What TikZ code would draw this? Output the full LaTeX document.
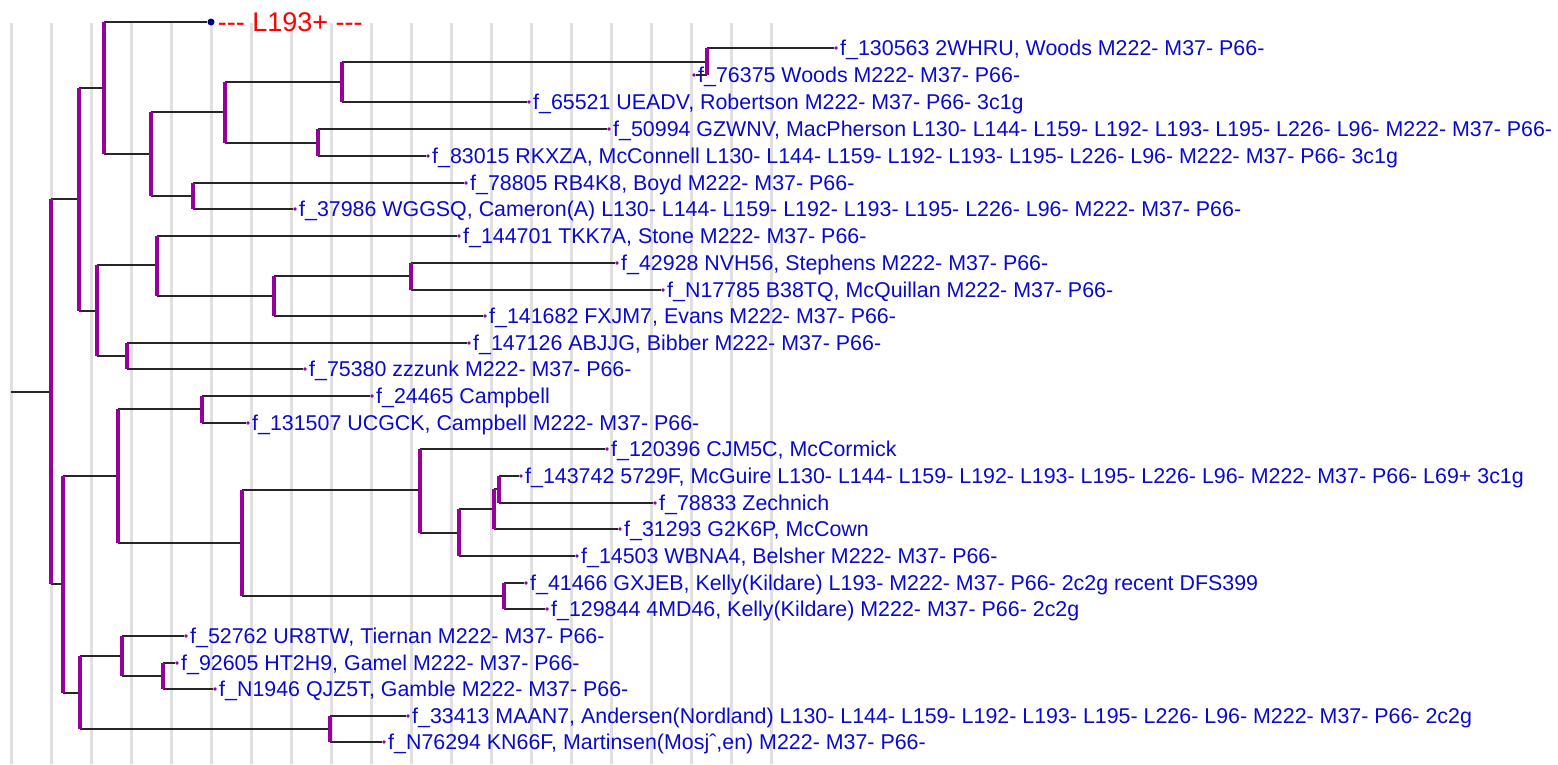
\documentclass[tikz,border=0pt]{standalone}
\usepackage{fontspec}
\newfontfamily\treefont{Liberation Sans}
\usepackage{tikz}
\definecolor{leafblue}{RGB}{10,10,205}
\definecolor{cladepurple}{RGB}{150,0,155}
\definecolor{gridgray}{RGB}{224,224,224}
\definecolor{rootnavy}{RGB}{0,0,140}
\tikzstyle{grid line}=[gridgray, line width=3pt]
\tikzstyle{branch}=[black!85, line width=1.4pt]
\tikzstyle{cladebar}=[cladepurple, line width=3.2pt]
\tikzstyle{leafdot}=[circle, fill=cladepurple, inner sep=0pt, minimum size=3.6pt]
\tikzstyle{l193dot}=[circle, fill=rootnavy, inner sep=0pt, minimum size=7pt]
\tikzstyle{annot}=[anchor=base west, inner sep=0pt, xshift=2pt, yshift=-7.7pt, text=leafblue, font=\treefont\fontsize{21.4}{24}\selectfont]
\tikzstyle{redannot}=[anchor=base west, inner sep=0pt, xshift=3pt, yshift=-9.7pt, text=red, font=\treefont\fontsize{27}{30}\selectfont]
\newcommand{\addleaf}[4]
{
  \node[leafdot](#1) at (#2,#3){};
  \node[annot](#1-lab) at (#1.east){#4};
}
\newcommand{\addclade}[3]
{
  \draw[branch] (#1 |- #2) -- (#2);
  \draw[branch] (#1 |- #3) -- (#3);
  \draw[cladebar] (#1 |- #2) -- (#1 |- #3);
}
\begin{document}
\begin{tikzpicture}[x=1pt, y=-1pt]
	\useasboundingbox (0,0) rectangle (1558,764);

	% background grid
	\foreach \k in {0,...,19}
		\draw[grid line] (11+40*\k,23) -- (11+40*\k,764);

	% leaves
	\node[l193dot](l193) at (211,22){};
	\node[redannot](l193-lab) at (l193.east){-\kern0pt-\kern0pt- L193+ -\kern0pt-\kern0pt-};
	\addleaf{f130563}{836}{48}{f\_130563 2WHRU, Woods M222- M37- P66-}
	\addleaf{f76375}{694}{75}{f\_76375 Woods M222- M37- P66-}
	\addleaf{f65521}{529}{102}{f\_65521 UEADV, Robertson M222- M37- P66- 3c1g}
	\addleaf{f50994}{609}{129}{f\_50994 GZWNV, MacPherson L130- L144- L159- L192- L193- L195- L226- L96- M222- M37- P66-}
	\addleaf{f83015}{428}{156}{f\_83015 RKXZA, McConnell L130- L144- L159- L192- L193- L195- L226- L96- M222- M37- P66- 3c1g}
	\addleaf{f78805}{466}{183}{f\_78805 RB4K8, Boyd M222- M37- P66-}
	\addleaf{f37986}{295}{209}{f\_37986 WGGSQ, Cameron(A) L130- L144- L159- L192- L193- L195- L226- L96- M222- M37- P66-}
	\addleaf{f144701}{459}{236}{f\_144701 TKK7A, Stone M222- M37- P66-}
	\addleaf{f42928}{617}{263}{f\_42928 NVH56, Stephens M222- M37- P66-}
	\addleaf{fN17785}{663}{290}{f\_N17785 B38TQ, McQuillan M222- M37- P66-}
	\addleaf{f141682}{485}{316}{f\_141682 FXJM7, Evans M222- M37- P66-}
	\addleaf{f147126}{469}{343}{f\_147126 ABJJG, Bibber M222- M37- P66-}
	\addleaf{f75380}{305}{369}{f\_75380 zzzunk M222- M37- P66-}
	\addleaf{f24465}{372}{396}{f\_24465 Campbell}
	\addleaf{f131507}{248}{423}{f\_131507 UCGCK, Campbell M222- M37- P66-}
	\addleaf{f120396}{607}{449}{f\_120396 CJM5C, McCormick}
	\addleaf{f143742}{521}{476}{f\_143742 5729F, McGuire L130- L144- L159- L192- L193- L195- L226- L96- M222- M37- P66- L69+ 3c1g}
	\addleaf{f78833}{655}{503}{f\_78833 Zechnich}
	\addleaf{f31293}{620}{529}{f\_31293 G2K6P, McCown}
	\addleaf{f14503}{577}{556}{f\_14503 WBNA4, Belsher M222- M37- P66-}
	\addleaf{f41466}{526}{583}{f\_41466 GXJEB, Kelly(Kildare) L193- M222- M37- P66- 2c2g recent DFS399}
	\addleaf{f129844}{547}{609}{f\_129844 4MD46, Kelly(Kildare) M222- M37- P66- 2c2g}
	\addleaf{f52762}{186}{636}{f\_52762 UR8TW, Tiernan M222- M37- P66-}
	\addleaf{f92605}{177}{663}{f\_92605 HT2H9, Gamel M222- M37- P66-}
	\addleaf{fN1946}{215}{689}{f\_N1946 QJZ5T, Gamble M222- M37- P66-}
	\addleaf{f33413}{408}{716}{f\_33413 MAAN7, Andersen(Nordland) L130- L144- L159- L192- L193- L195- L226- L96- M222- M37- P66- 2c2g}
	\addleaf{fN76294}{384}{742}{f\_N76294 KN66F, Martinsen(Mosjˆ,en) M222- M37- P66-}

	% inner nodes
	\coordinate (stem) at (11,392);
	\coordinate (root) at (51,392);
	\coordinate (ca) at (79,199);
	\coordinate (cb) at (104,88);
	\coordinate (cc) at (151,154);
	\coordinate (cd) at (225,112);
	\coordinate (ce) at (193,196);
	\coordinate (cf) at (342,82);
	\coordinate (cg) at (318,143);
	\coordinate (ch) at (707,62);
	\coordinate (ci) at (97,311);
	\coordinate (cj) at (157,265);
	\coordinate (ck) at (127,356);
	\coordinate (cl) at (274,296);
	\coordinate (cm) at (411,276);
	\coordinate (cn) at (63,584);
	\coordinate (co) at (118,476);
	\coordinate (cp) at (80,693);
	\coordinate (cq) at (202,409);
	\coordinate (cr) at (242,543);
	\coordinate (cs) at (420,490);
	\coordinate (ct) at (504,596);
	\coordinate (cu) at (459,533);
	\coordinate (cv) at (494,509);
	\coordinate (cw) at (499,489);
	\coordinate (cx) at (122,656);
	\coordinate (cy) at (330,729);
	\coordinate (cz) at (163,676);

	% branches
	\draw[branch] (stem) -- (root);
	\addclade{root}{ca}{cn}
	\addclade{ca}{cb}{ci}
	\addclade{cb}{l193}{cc}
	\addclade{cc}{cd}{ce}
	\addclade{cd}{cf}{cg}
	\addclade{cf}{ch}{f65521}
	\addclade{ch}{f130563}{f76375}
	\addclade{cg}{f50994}{f83015}
	\addclade{ce}{f78805}{f37986}
	\addclade{ci}{cj}{ck}
	\addclade{cj}{f144701}{cl}
	\addclade{cl}{cm}{f141682}
	\addclade{cm}{f42928}{fN17785}
	\addclade{ck}{f147126}{f75380}
	\addclade{cn}{co}{cp}
	\addclade{co}{cq}{cr}
	\addclade{cq}{f24465}{f131507}
	\addclade{cr}{cs}{ct}
	\addclade{cs}{f120396}{cu}
	\addclade{cu}{cv}{f14503}
	\addclade{cv}{cw}{f31293}
	\addclade{cw}{f143742}{f78833}
	\addclade{ct}{f41466}{f129844}
	\addclade{cp}{cx}{cy}
	\addclade{cx}{f52762}{cz}
	\addclade{cz}{f92605}{fN1946}
	\addclade{cy}{f33413}{fN76294}

\end{tikzpicture}
\end{document}
